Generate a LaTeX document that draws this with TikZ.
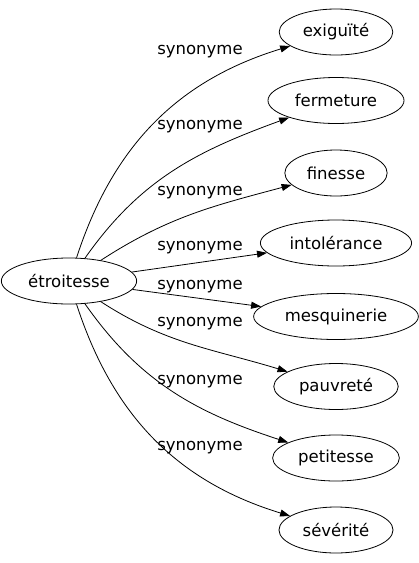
\documentclass[tikz,border=0pt]{standalone}
\usepackage{fontspec}
\setmainfont{DejaVu Sans}
\usepackage{tikz}
\usetikzlibrary{shapes.geometric, arrows.meta, positioning}

\begin{document}
\begin{tikzpicture}[
    x=1pt, y=1pt,
    word/.style={ellipse, draw=black, line width=0.8pt, inner xsep=7pt, minimum height=46pt, font=\fontsize{16.5}{18}\selectfont},
    edge/.style={-{Stealth[length=10pt, width=7pt, inset=0pt]}, line width=0.8pt},
    lbl/.style={font=\fontsize{16.5}{18}\selectfont, inner sep=0pt}
]
\useasboundingbox (0,0) rectangle (419,-563);

% Source
\node[word] (etr) at (69,-281) {étroitesse};

% Synonyms
\node[word] (exi) at (336,-32) {exiguïté};
\node[word] (fer) at (336,-100.5) {fermeture};
\node[word] (fin) at (336,-173) {finesse};
\node[word] (int) at (336,-243) {intolérance};
\node[word] (mes) at (336,-316.5) {mesquinerie};
\node[word] (pau) at (336,-386.5) {pauvreté};
\node[word] (pet) at (336,-458) {petitesse};
\node[word] (sev) at (336,-530) {sévérité};

% Edges
\draw[edge] (etr) to[out=72, in=197] (exi);
\draw[edge] (etr) to[out=55, in=200] (fer);
\draw[edge] (etr) to[out=33, in=195] (fin);
\draw[edge] (etr) -- (int);
\draw[edge] (etr) -- (mes);
\draw[edge] (etr) to[out=-33, in=163] (pau);
\draw[edge] (etr) to[out=-55, in=162] (pet);
\draw[edge] (etr) to[out=-72, in=163] (sev);

% Labels
\node[lbl] (l1) at (200,-52) {synonyme};
\node[lbl] (l2) at (200,-127) {synonyme};
\node[lbl] (l3) at (200,-193) {synonyme};
\node[lbl] (l4) at (200,-248) {synonyme};
\node[lbl] (l5) at (200,-287) {synonyme};
\node[lbl] (l6) at (200,-324) {synonyme};
\node[lbl] (l7) at (200,-382) {synonyme};
\node[lbl] (l8) at (200,-448) {synonyme};

\end{tikzpicture}
\end{document}
